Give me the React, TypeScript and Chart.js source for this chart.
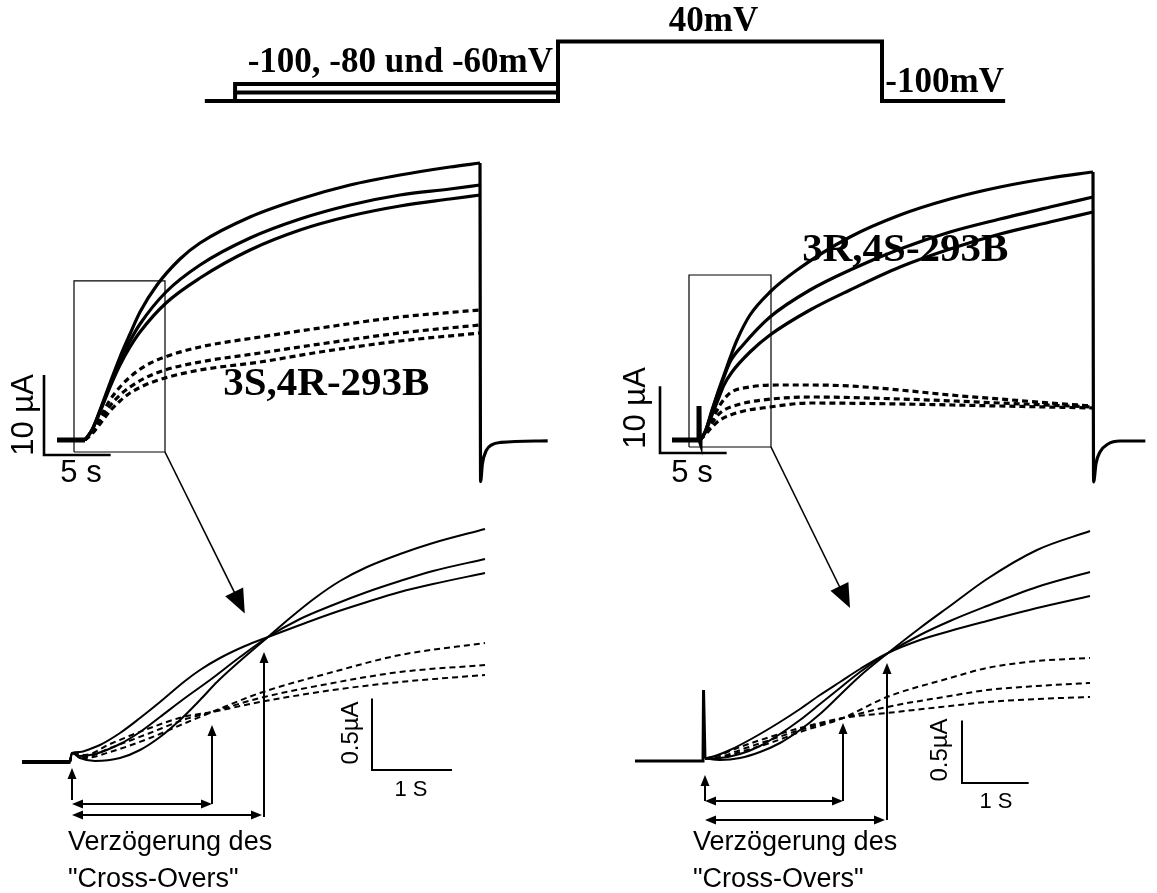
import React, { useEffect, useRef } from "react";
import { Chart, registerables } from "chart.js";
Chart.register(...registerables);

const W = 1157;
const H = 893;

// ---------- voltage protocol (s, mV) ----------
const PROTO_T = [-32.7, -29.9, -29.9, 0, 0, 30, 30, 41.4];
const PROTO_V = [-100, -100, -60, -60, 40, 40, -100, -100];
const PRE80_T = [-29.9, 0];
const PRE80_V = [-80, -80];
const PRE100_T = [-29.9, 0, 0];
const PRE100_V = [-100, -100, -60];

// ---------- top left: 3S,4R-293B (s, µA) ----------
const TL_BASE_T = [-2.1, 0];
const TL_BASE_I = [0, 0];
const TL_S1_T = [0, 0.525, 1.125, 1.875, 2.625, 3.375, 4.125, 5.4, 7.125, 8.625, 12.375, 16.125, 19.875, 23.625, 27.375, 29.625];
const TL_S1_I = [0, 1.25, 3.75, 7.125, 10.375, 13.25, 16.0, 19.375, 22.625, 24.625, 27.875, 30.125, 31.875, 33.125, 34.125, 34.625];
const TL_S_T = [0, 0.525, 1.125, 1.875, 2.625, 3.375, 4.125, 6.075, 8.625, 12.375, 16.125, 19.875, 23.625, 27.375, 29.625];
const TL_S2_I = [0, 1.25, 3.625, 6.875, 9.875, 12.375, 14.5, 18.5, 21.875, 25.25, 27.625, 29.375, 30.625, 31.375, 31.875];
const TL_S3_I = [0, 1.25, 3.5, 6.625, 9.375, 11.625, 13.5, 17.125, 20.25, 23.75, 26.25, 28.0, 29.25, 30.125, 30.625];
const TL_D_T = [0, 0.525, 1.125, 1.875, 2.625, 3.375, 4.5, 6.0, 8.625, 13.125, 17.625, 23.625, 29.625];
const TL_D1_I = [0, 1.0, 2.75, 5.0, 6.625, 7.875, 9.25, 10.375, 11.625, 12.875, 14.0, 15.375, 16.25];
const TL_D2_I = [0, 0.875, 2.375, 4.25, 5.625, 6.625, 7.75, 8.75, 9.75, 10.875, 12.0, 13.375, 14.375];
const TL_D3_I = [0, 0.75, 2.0, 3.625, 4.875, 5.875, 6.875, 7.75, 8.75, 9.75, 11.0, 12.375, 13.375];
const TL_TAIL_T = [29.625, 29.67, 29.8, 30.1, 30.5, 31.2, 34.7];
const TL_TAIL_I = [34.625, -5.2, -3.0, -1.3, -0.6, -0.3, -0.1];

// ---------- top right: 3R,4S-293B (s, µA) ----------
const TR_BASE_T = [-2.1, -0.1, -0.075, -0.05, 0];
const TR_BASE_I = [0, 0, 5.1, 0.3, 0];
const TR_S1_T = [0, 0.375, 0.9, 1.35, 1.8, 2.25, 2.775, 3.75, 5.25, 7.275, 11.25, 15.0, 18.75, 22.5, 26.25, 29.475];
const TR_S1_I = [0, 1.2, 4.5, 7.2, 9.75, 12.3, 15.0, 18.75, 22.2, 25.5, 30.45, 33.75, 36.15, 37.95, 39.3, 40.2];
const TR_S2_T = [0, 0.375, 0.9, 1.35, 1.8, 2.25, 3.225, 5.25, 8.25, 11.25, 15.0, 18.75, 22.5, 26.25, 29.475];
const TR_S2_I = [0, 1.2, 4.35, 7.05, 9.45, 11.7, 14.25, 18.45, 22.5, 25.5, 28.65, 31.2, 33.15, 34.95, 36.45];
const TR_S3_T = [0, 0.375, 0.9, 1.35, 1.8, 2.4, 3.75, 5.25, 8.25, 11.25, 15.0, 18.75, 22.5, 26.25, 29.475];
const TR_S3_I = [0, 1.05, 3.75, 6.0, 8.25, 10.2, 13.2, 15.75, 19.5, 22.5, 25.95, 28.65, 30.9, 32.7, 34.2];
const TR_D1_T = [0, 0.375, 0.9, 1.5, 2.25, 3.75, 5.775, 8.25, 11.25, 15.0, 18.75, 22.5, 26.25, 29.475];
const TR_D1_I = [0, 1.05, 3.0, 5.25, 7.05, 7.95, 8.25, 8.25, 8.1, 7.5, 6.75, 6.15, 5.55, 5.1];
const TR_D2_T = [0, 0.375, 0.9, 1.5, 2.775, 4.725, 8.25, 15.0, 22.5, 29.475];
const TR_D2_I = [0, 0.9, 2.55, 4.05, 5.25, 6.0, 6.45, 6.15, 5.55, 4.95];
const TR_D3_T = [0, 0.375, 0.9, 1.5, 3.0, 5.25, 8.25, 15.0, 22.5, 29.475];
const TR_D3_I = [0, 0.75, 1.95, 3.0, 4.2, 4.95, 5.55, 5.4, 5.1, 4.8];
const TR_TAIL_T = [29.475, 29.52, 29.7, 30.0, 30.6, 31.5, 33.4];
const TR_TAIL_I = [40.2, -6.3, -3.5, -1.8, -0.6, -0.15, -0.15];

// ---------- bottom left: zoom of 3S,4R-293B (s, µA) ----------
const BL_BASE_T = [-0.625, -0.02];
const BL_BASE_I = [0, 0];
const BL_S1_T = [-0.025, 0, 0.1, 0.2875, 0.6, 0.85, 1.1, 1.35, 1.6, 1.8125, 2.1, 2.45, 2.725, 3.0375, 3.35, 3.6875, 4.1, 4.5125, 5.1625];
const BL_S1_I = [0, 0.063, 0.028, 0.007, 0.028, 0.084, 0.175, 0.294, 0.434, 0.56, 0.707, 0.875, 1.008, 1.148, 1.267, 1.365, 1.456, 1.533, 1.631];
const BL_S2_T = [-0.025, 0, 0.1, 0.2875, 0.6, 0.85, 1.1, 1.4125, 1.725, 2.1, 2.45, 2.85, 3.2625, 3.6875, 4.1, 4.5125, 5.1625];
const BL_S2_I = [0, 0.063, 0.042, 0.056, 0.126, 0.21, 0.315, 0.448, 0.574, 0.735, 0.875, 1.001, 1.099, 1.19, 1.267, 1.337, 1.421];
const BL_S3_T = [-0.025, 0, 0.1, 0.225, 0.35, 0.6, 0.85, 1.1, 1.4125, 1.6, 1.85, 2.1625, 2.45, 2.85, 3.2625, 3.6875, 4.1, 4.5125, 5.1625];
const BL_S3_I = [0, 0.063, 0.07, 0.091, 0.119, 0.203, 0.308, 0.42, 0.567, 0.644, 0.728, 0.812, 0.875, 0.959, 1.043, 1.12, 1.19, 1.246, 1.323];
const BL_D_T = [-0.025, 0, 0.1625, 0.475, 0.975, 1.3875, 1.75, 2.35, 3.2625, 4.1, 5.1625];
const BL_D1_I = [0, 0.063, 0.028, 0.07, 0.168, 0.266, 0.35, 0.483, 0.63, 0.749, 0.833];
const BL_D2_I = [0, 0.063, 0.035, 0.098, 0.203, 0.294, 0.35, 0.448, 0.553, 0.63, 0.679];
const BL_D3_I = [0, 0.063, 0.049, 0.126, 0.238, 0.315, 0.35, 0.42, 0.504, 0.56, 0.609];

// ---------- bottom right: zoom of 3R,4S-293B (s, µA) ----------
const BR_BASE_T = [-1.02, 0, 0.008, 0.03];
const BR_BASE_I = [0, 0, 0.568, 0.02];
const BR_S12_T = [0.03, 0.255, 0.555, 0.855, 1.155, 1.455, 1.755, 2.055, 2.355, 2.775, 3.255, 3.705, 4.26, 5.01, 5.805];
const BR_S1_I = [0.02, 0.008, 0.024, 0.072, 0.144, 0.248, 0.376, 0.528, 0.68, 0.864, 1.064, 1.24, 1.456, 1.688, 1.84];
const BR_S2_I = [0.02, 0.024, 0.056, 0.12, 0.216, 0.328, 0.456, 0.584, 0.712, 0.864, 1.008, 1.12, 1.24, 1.392, 1.512];
const BR_S3_T = [0.03, 0.18, 0.405, 0.75, 1.155, 1.455, 1.755, 2.055, 2.355, 2.775, 3.255, 3.705, 4.26, 5.01, 5.805];
const BR_S3_I = [0.02, 0.04, 0.088, 0.184, 0.312, 0.416, 0.528, 0.632, 0.736, 0.864, 0.968, 1.04, 1.12, 1.224, 1.32];
const BR_D_T = [0.03, 0.255, 0.555, 1.005, 1.455, 2.1, 2.76, 3.705, 4.26, 5.01, 5.805];
const BR_D1_I = [0.02, 0.024, 0.072, 0.144, 0.232, 0.344, 0.512, 0.664, 0.744, 0.8, 0.824];
const BR_D2_I = [0.02, 0.032, 0.088, 0.168, 0.248, 0.344, 0.432, 0.52, 0.568, 0.6, 0.624];
const BR_D3_I = [0.02, 0.048, 0.112, 0.192, 0.264, 0.344, 0.384, 0.44, 0.472, 0.496, 0.512];

// ---------- zoom windows (panel units: t0, t1, i0, i1) ----------
const TL_BOX = [-0.825, 6.0, -1.5, 19.9];
const TR_BOX = [-0.825, 5.325, -1.05, 24.75];

// ---------- scale bars (anchor t, anchor i, dt, di) ----------
const TL_BAR = [-3.075, -1.875, 5, 10];
const TR_BAR = [-3.0, -1.95, 5, 10];
const BL_BAR = [3.75, -0.056, 1, 0.5];
const BR_BAR = [3.885, -0.176, 1, 0.5];

// ---------- arrows ----------
const ARROWS = [
  { a: "BL", b: "BL", from: [0, -0.266], to: [0, -0.042], both: false, big: false },
  { a: "BL", b: "BL", from: [0, -0.294], to: [1.75, -0.294], both: true, big: false },
  { a: "BL", b: "BL", from: [0, -0.371], to: [2.375, -0.371], both: true, big: false },
  { a: "BL", b: "BL", from: [1.75, -0.294], to: [1.75, 0.259], both: false, big: false },
  { a: "BL", b: "BL", from: [2.4, -0.385], to: [2.4, 0.77], both: false, big: false },
  { a: "BR", b: "BR", from: [0.03, -0.32], to: [0.03, -0.112], both: false, big: false },
  { a: "BR", b: "BR", from: [0.03, -0.32], to: [2.1, -0.32], both: true, big: false },
  { a: "BR", b: "BR", from: [0.03, -0.472], to: [2.73, -0.472], both: true, big: false },
  { a: "BR", b: "BR", from: [2.1, -0.32], to: [2.1, 0.304], both: false, big: false },
  { a: "BR", b: "BR", from: [2.76, -0.472], to: [2.76, 0.784], both: false, big: false },
  { a: "TL", b: "BL", from: [6.0, -1.5], to: [2.16, 1.04], both: false, big: true },
  { a: "TR", b: "BR", from: [5.325, -1.05], to: [2.205, 1.224], both: false, big: true },
];

// ---------- labels ----------
const SERIF_B = '"Liberation Serif", "Times New Roman", serif';
const SANS = '"Liberation Sans", Arial, sans-serif';
const LABELS = [
  { ax: "P", t: -14.6, v: -10.6, text: "-100, -80 und -60mV", font: `bold 35px ${SERIF_B}`, align: "center", rot: 0 },
  { ax: "P", t: 14.4, v: 87, text: "40mV", font: `bold 35px ${SERIF_B}`, align: "center", rot: 0 },
  { ax: "P", t: 35.8, v: -57.6, text: "-100mV", font: `bold 35px ${SERIF_B}`, align: "center", rot: 0 },
  { ax: "TL", t: 18.1, v: 6.9, text: "3S,4R-293B", font: `bold 41px ${SERIF_B}`, align: "center", rot: 0 },
  { ax: "TR", t: 15.4, v: 28.5, text: "3R,4S-293B", font: `bold 41px ${SERIF_B}`, align: "center", rot: 0 },
  { ax: "TL", t: -4.575, v: 3.125, text: "10 µA", font: `31px ${SANS}`, align: "center", rot: -90 },
  { ax: "TL", t: -0.3, v: -4.125, text: "5 s", font: `31px ${SANS}`, align: "center", rot: 0 },
  { ax: "TR", t: -4.8, v: 4.8, text: "10 µA", font: `31px ${SANS}`, align: "center", rot: -90 },
  { ax: "TR", t: -0.6, v: -4.95, text: "5 s", font: `31px ${SANS}`, align: "center", rot: 0 },
  { ax: "BL", t: 3.4875, v: 0.203, text: "0.5µA", font: `24px ${SANS}`, align: "center", rot: -90 },
  { ax: "BL", t: 4.2375, v: -0.196, text: "1 S", font: `22px ${SANS}`, align: "center", rot: 0 },
  { ax: "BR", t: 3.555, v: 0.088, text: "0.5µA", font: `24px ${SANS}`, align: "center", rot: -90 },
  { ax: "BR", t: 4.395, v: -0.328, text: "1 S", font: `22px ${SANS}`, align: "center", rot: 0 },
  { ax: "BL", t: -0.05, v: -0.567, text: "Verzögerung des", font: `27px ${SANS}`, align: "left", rot: 0 },
  { ax: "BL", t: -0.05, v: -0.826, text: "\"Cross-Overs\"", font: `27px ${SANS}`, align: "left", rot: 0 },
  { ax: "BR", t: -0.15, v: -0.656, text: "Verzögerung des", font: `27px ${SANS}`, align: "left", rot: 0 },
  { ax: "BR", t: -0.15, v: -0.952, text: "\"Cross-Overs\"", font: `27px ${SANS}`, align: "left", rot: 0 },
];

// panel frames: origin pixel and pixels per unit (layout only)
const FRAMES: Record<string, { ox: number; kx: number; oy: number; ky: number }> = {
  P: { ox: 558, kx: 10.8, oy: 58.5, ky: 0.425 },
  TL: { ox: 85, kx: 40 / 3, oy: 440, ky: 8 },
  TR: { ox: 700, kx: 40 / 3, oy: 440, ky: 20 / 3 },
  BL: { ox: 72, kx: 80, oy: 762, ky: 1000 / 7 },
  BR: { ox: 703, kx: 200 / 3, oy: 761, ky: 125 },
};

const STYLES: Record<string, any> = {
  proto: { borderWidth: 4, tension: 0, borderJoinStyle: "miter", borderCapStyle: "butt" },
  topBase: { borderWidth: 5, tension: 0 },
  topSolid: { borderWidth: 3.2, cubicInterpolationMode: "monotone" },
  topDash: { borderWidth: 3.2, borderDash: [6, 4], cubicInterpolationMode: "monotone" },
  botBase: { borderWidth: 4, tension: 0 },
  botSpike: { borderWidth: 3, tension: 0 },
  botSolid: { borderWidth: 2, cubicInterpolationMode: "monotone" },
  botDash: { borderWidth: 2, borderDash: [6, 4], cubicInterpolationMode: "monotone" },
  box: { borderWidth: 1.2, tension: 0, borderJoinStyle: "miter" },
  topBar: { borderWidth: 2.6, tension: 0, borderJoinStyle: "miter" },
  botBar: { borderWidth: 2, tension: 0, borderJoinStyle: "miter" },
};

function boxSeries(b: number[]) {
  return [[b[0], b[1], b[1], b[0], b[0]], [b[2], b[2], b[3], b[3], b[2]]];
}
function barSeries(b: number[]) {
  return [[b[0], b[0], b[0] + b[2]], [b[1] + b[3], b[1], b[1]]];
}

const SERIES: [string, number[], number[], string][] = [
  ["P", PROTO_T, PROTO_V, "proto"],
  ["P", PRE80_T, PRE80_V, "proto"],
  ["P", PRE100_T, PRE100_V, "proto"],
  ["TL", TL_BASE_T, TL_BASE_I, "topBase"],
  ["TL", TL_S1_T, TL_S1_I, "topSolid"],
  ["TL", TL_S_T, TL_S2_I, "topSolid"],
  ["TL", TL_S_T, TL_S3_I, "topSolid"],
  ["TL", TL_D_T, TL_D1_I, "topDash"],
  ["TL", TL_D_T, TL_D2_I, "topDash"],
  ["TL", TL_D_T, TL_D3_I, "topDash"],
  ["TL", TL_TAIL_T, TL_TAIL_I, "topSolid"],
  ["TR", TR_BASE_T, TR_BASE_I, "topBase"],
  ["TR", TR_S1_T, TR_S1_I, "topSolid"],
  ["TR", TR_S2_T, TR_S2_I, "topSolid"],
  ["TR", TR_S3_T, TR_S3_I, "topSolid"],
  ["TR", TR_D1_T, TR_D1_I, "topDash"],
  ["TR", TR_D2_T, TR_D2_I, "topDash"],
  ["TR", TR_D3_T, TR_D3_I, "topDash"],
  ["TR", TR_TAIL_T, TR_TAIL_I, "topSolid"],
  ["BL", BL_BASE_T, BL_BASE_I, "botBase"],
  ["BL", BL_S1_T, BL_S1_I, "botSolid"],
  ["BL", BL_S2_T, BL_S2_I, "botSolid"],
  ["BL", BL_S3_T, BL_S3_I, "botSolid"],
  ["BL", BL_D_T, BL_D1_I, "botDash"],
  ["BL", BL_D_T, BL_D2_I, "botDash"],
  ["BL", BL_D_T, BL_D3_I, "botDash"],
  ["BR", BR_BASE_T, BR_BASE_I, "botSpike"],
  ["BR", BR_S12_T, BR_S1_I, "botSolid"],
  ["BR", BR_S12_T, BR_S2_I, "botSolid"],
  ["BR", BR_S3_T, BR_S3_I, "botSolid"],
  ["BR", BR_D_T, BR_D1_I, "botDash"],
  ["BR", BR_D_T, BR_D2_I, "botDash"],
  ["BR", BR_D_T, BR_D3_I, "botDash"],
  ["TL", ...boxSeries(TL_BOX), "box"] as any,
  ["TR", ...boxSeries(TR_BOX), "box"] as any,
  ["TL", ...barSeries(TL_BAR), "topBar"] as any,
  ["TR", ...barSeries(TR_BAR), "topBar"] as any,
  ["BL", ...barSeries(BL_BAR), "botBar"] as any,
  ["BR", ...barSeries(BR_BAR), "botBar"] as any,
];

function buildScales() {
  const scales: Record<string, any> = {};
  Object.keys(FRAMES).forEach((k) => {
    const f = FRAMES[k];
    scales["x" + k] = {
      type: "linear", axis: "x", position: "bottom", display: false, bounds: "data",
      min: -f.ox / f.kx, max: (W - f.ox) / f.kx,
    };
    scales["y" + k] = {
      type: "linear", axis: "y", position: "left", display: false, bounds: "data",
      min: -(H - f.oy) / f.ky, max: f.oy / f.ky,
    };
  });
  return scales;
}

const annotationPlugin = {
  id: "figureAnnotations",
  afterDatasetsDraw(chart: any) {
    const ctx = chart.ctx as CanvasRenderingContext2D;
    const px = (ax: string, t: number) => chart.scales["x" + ax].getPixelForValue(t);
    const py = (ax: string, v: number) => chart.scales["y" + ax].getPixelForValue(v);
    ctx.save();
    ctx.fillStyle = "#000";
    ctx.strokeStyle = "#000";
    ctx.lineCap = "butt";

    const head = (tx: number, ty: number, ux: number, uy: number, len: number, hw: number) => {
      ctx.beginPath();
      ctx.moveTo(tx, ty);
      ctx.lineTo(tx - ux * len - uy * hw, ty - uy * len + ux * hw);
      ctx.lineTo(tx - ux * len + uy * hw, ty - uy * len - ux * hw);
      ctx.closePath();
      ctx.fill();
    };

    ARROWS.forEach((ar) => {
      const x0 = px(ar.a, ar.from[0]);
      const y0 = py(ar.a, ar.from[1]);
      const x1 = px(ar.b, ar.to[0]);
      const y1 = py(ar.b, ar.to[1]);
      const dx = x1 - x0, dy = y1 - y0;
      const L = Math.hypot(dx, dy);
      const ux = dx / L, uy = dy / L;
      const len = ar.big ? 24 : 11;
      const hw = ar.big ? 10 : 4.5;
      ctx.lineWidth = ar.big ? 1.6 : 2;
      const sx = ar.both ? x0 + ux * (len - 2) : x0;
      const sy = ar.both ? y0 + uy * (len - 2) : y0;
      ctx.beginPath();
      ctx.moveTo(sx, sy);
      ctx.lineTo(x1 - ux * (len - 2), y1 - uy * (len - 2));
      ctx.stroke();
      head(x1, y1, ux, uy, len, hw);
      if (ar.both) head(x0, y0, -ux, -uy, len, hw);
    });

    LABELS.forEach((lb) => {
      const x = px(lb.ax, lb.t);
      const y = py(lb.ax, lb.v);
      ctx.save();
      ctx.font = lb.font;
      ctx.textAlign = lb.align as CanvasTextAlign;
      ctx.textBaseline = "middle";
      ctx.translate(x, y);
      if (lb.rot) ctx.rotate((lb.rot * Math.PI) / 180);
      ctx.fillText(lb.text, 0, 0);
      ctx.restore();
    });
    ctx.restore();
  },
};

export default function App() {
  const ref = useRef<HTMLCanvasElement | null>(null);
  useEffect(() => {
    if (!ref.current) return;
    const datasets = SERIES.map(([ax, T, V, st]) => ({
      data: T.map((t, i) => ({ x: t, y: V[i] })),
      xAxisID: "x" + ax,
      yAxisID: "y" + ax,
      borderColor: "#000",
      backgroundColor: "#000",
      pointRadius: 0,
      pointHoverRadius: 0,
      fill: false,
      ...STYLES[st],
    }));
    const chart = new Chart(ref.current, {
      type: "line",
      data: { datasets },
      options: {
        animation: false,
        responsive: false,
        events: [],
        layout: { padding: 0 },
        plugins: { legend: { display: false }, tooltip: { enabled: false }, title: { display: false } },
        scales: buildScales(),
      },
      plugins: [annotationPlugin],
    } as any);
    return () => chart.destroy();
  }, []);
  return (
    <div style={{ position: "absolute", left: 0, top: 0, width: W, height: H, background: "#fff" }}>
      <canvas ref={ref} width={W} height={H} style={{ display: "block" }} />
    </div>
  );
}
